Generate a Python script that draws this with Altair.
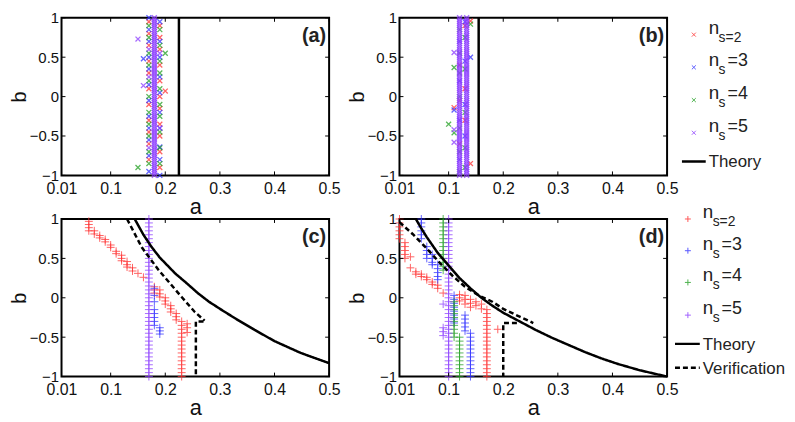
import altair as alt
import pandas as pd

W, H = 270, 159

X_TICKS = [0.01, 0.1, 0.2, 0.3, 0.4, 0.5]
Y_TICKS = [-1.0, -0.5, 0.0, 0.5, 1.0]
SERIES = ["n_s=2", "n_s=3", "n_s=4", "n_s=5"]
COLORS = ["#ff3030", "#3030ff", "#22a022", "#8c3cff"]

B_FINE = [-1.0, -0.95, -0.9, -0.85, -0.8, -0.75, -0.7, -0.65, -0.6, -0.55, -0.5,
          -0.45, -0.4, -0.35, -0.3, -0.25, -0.2, -0.15, -0.1, -0.05, 0.0,
          0.05, 0.1, 0.15, 0.2, 0.25, 0.3, 0.35, 0.4, 0.45, 0.5,
          0.55, 0.6, 0.65, 0.7, 0.75, 0.8, 0.85, 0.9, 0.95, 1.0]
B_FINER = [-1.0, -0.975, -0.95, -0.925, -0.9, -0.875, -0.85, -0.825, -0.8, -0.775,
           -0.75, -0.725, -0.7, -0.675, -0.65, -0.625, -0.6, -0.575, -0.55, -0.525,
           -0.5, -0.475, -0.45, -0.425, -0.4, -0.375, -0.35, -0.325, -0.3, -0.275,
           -0.25, -0.225, -0.2, -0.175, -0.15, -0.125, -0.1, -0.075, -0.05, -0.025,
           0.0, 0.025, 0.05, 0.075, 0.1, 0.125, 0.15, 0.175, 0.2, 0.225,
           0.25, 0.275, 0.3, 0.325, 0.35, 0.375, 0.4, 0.425, 0.45, 0.475,
           0.5, 0.525, 0.55, 0.575, 0.6, 0.625, 0.65, 0.675, 0.7, 0.725,
           0.75, 0.775, 0.8, 0.825, 0.85, 0.875, 0.9, 0.925, 0.95, 0.975, 1.0]

# ---------------- panel (a) ----------------
A_RED_017 = [0.95, 0.8, 0.65, 0.45, 0.3, 0.1, -0.1, -0.3, -0.45, -0.6, -0.8]
A_RED_019 = [0.9, 0.75, 0.6, 0.4, 0.2, 0.0, -0.15, -0.35, -0.5, -0.7, -0.9]
A_RED_OUT = [(0.2, 0.07)]
A_BLUE_017 = [1.0, 0.85, 0.7, 0.5, 0.35, 0.15, -0.05, -0.25, -0.4, -0.55, -0.75, -0.95]
A_BLUE_019 = [0.95, 0.7, 0.5, 0.25, 0.05, -0.2, -0.4, -0.64, -0.8, -1.0]
A_BLUE_OUT = [(0.16, 0.48)]
A_GREEN_017 = [0.9, 0.75, 0.55, 0.4, 0.2, 0.0, -0.2, -0.35, -0.5, -0.7, -0.85]
A_GREEN_019 = [0.85, 0.65, 0.45, 0.3, 0.1, -0.1, -0.25, -0.45, -0.65, -0.85]
A_GREEN_OUT = [(0.15, -0.9), (0.2, 0.55)]
A_PURPLE_017 = [0.6, 0.25, -0.65]
A_PURPLE_019 = [0.55, -0.4]
A_PURPLE_OUT = [(0.15, 0.73), (0.16, 0.14)]
A_PURPLE_BAND_A = 0.18
A_THEORY = [(0.225, -1.0), (0.225, 1.0)]

# ---------------- panel (b) ----------------
B_RED_012 = [0.4, -0.05, -0.6]
B_RED_013 = [0.9, 0.1, -0.3]
B_RED_OUT = [(0.14, 0.96), (0.14, -0.85), (0.11, -0.14)]
B_BLUE_012 = [0.7, 0.2, -0.3, -0.8]
B_BLUE_013 = [0.95, 0.45, -0.1, -0.5]
B_BLUE_OUT = [(0.14, 0.5), (0.11, -0.17)]
B_GREEN_012 = [0.85, 0.55, 0.3, 0.0, -0.4, -0.7, -0.95]
B_GREEN_013 = [0.75, 0.35, -0.2, -0.65, -0.9]
B_GREEN_OUT = [(0.11, 0.37), (0.10, -0.35), (0.11, -0.46), (0.14, 0.92)]
B_PURPLE_BANDS_A = [0.12, 0.133]
B_PURPLE_OUT = [(0.11, 0.56), (0.11, -0.42), (0.11, -0.58)]
B_THEORY = [(0.155, -1.0), (0.155, 1.0)]

# ---------------- panel (c) ----------------
C_RED = [(0.06, 0.97), (0.06, 0.93), (0.06, 0.89), (0.06, 0.85),
         (0.07, 0.85), (0.07, 0.81), (0.08, 0.79), (0.08, 0.76),
         (0.09, 0.74), (0.09, 0.71), (0.10, 0.67), (0.10, 0.64),
         (0.11, 0.59), (0.11, 0.56), (0.12, 0.54), (0.12, 0.5), (0.12, 0.47),
         (0.13, 0.46), (0.13, 0.42), (0.13, 0.39), (0.14, 0.38), (0.14, 0.34),
         (0.15, 0.31), (0.16, 0.26),
         (0.18, 0.14), (0.18, 0.1), (0.18, 0.06), (0.19, 0.1), (0.19, 0.05), (0.19, 0.01),
         (0.20, 0.0), (0.20, -0.04), (0.20, -0.08), (0.21, -0.1), (0.21, -0.14), (0.21, -0.18),
         (0.22, -0.2), (0.22, -0.24), (0.22, -0.28),
         (0.24, -0.33), (0.24, -0.38), (0.24, -0.44)]
C_RED_BAND = (0.23, -1.0, -0.3)
C_BLUE = [(0.18, 0.12), (0.18, 0.03), (0.18, -0.05), (0.18, -0.15), (0.18, -0.2),
          (0.18, -0.25), (0.18, -0.3), (0.18, -0.35), (0.19, -0.38), (0.19, -0.42), (0.19, -0.46)]
C_PURPLE_BAND = (0.17, -1.0, 1.0)
C_THEORY = [(0.144, 1.0), (0.16, 0.8), (0.175, 0.644), (0.19, 0.51), (0.218, 0.31),
            (0.24, 0.18), (0.26, 0.057), (0.28, -0.05), (0.303, -0.153), (0.33, -0.27),
            (0.363, -0.405), (0.4, -0.55), (0.448, -0.70), (0.5, -0.83)]
C_VERIF = [(0.13, 1.0), (0.157, 0.64), (0.188, 0.35), (0.23, 0.01), (0.254, -0.18), (0.272, -0.29)]
C_VERIF_STEP = [(0.27, -0.3), (0.256, -0.3), (0.256, -1.0)]

# ---------------- panel (d) ----------------
D_RED = [(0.02, 0.7), (0.02, 0.65), (0.02, 0.6), (0.02, 0.55), (0.02, 0.5),
         (0.03, 0.52), (0.03, 0.38), (0.04, 0.33), (0.04, 0.3), (0.05, 0.3), (0.05, 0.27),
         (0.06, 0.26), (0.06, 0.23), (0.07, 0.2), (0.07, 0.17), (0.08, 0.16), (0.08, 0.12),
         (0.09, 0.06), (0.12, 0.04), (0.12, 0.0), (0.12, -0.04),
         (0.13, 0.03), (0.13, -0.02), (0.13, -0.08), (0.14, -0.02), (0.14, -0.07), (0.14, -0.12),
         (0.15, -0.05), (0.15, -0.1), (0.16, -0.08), (0.16, -0.14), (0.19, -0.4)]
D_RED_BANDS = [(0.01, 0.75, 1.0), (0.17, -1.0, -0.15)]
D_BLUE = [(0.06, 0.65), (0.06, 0.6), (0.06, 0.55), (0.06, 0.5),
          (0.07, 0.55), (0.07, 0.5), (0.07, 0.45), (0.07, 0.42),
          (0.08, 0.42), (0.08, 0.37), (0.08, 0.32), (0.08, 0.27), (0.08, 0.23),
          (0.11, 0.03), (0.11, -0.02), (0.11, -0.07), (0.11, -0.12), (0.11, -0.17),
          (0.11, -0.22), (0.11, -0.27), (0.11, -0.32),
          (0.13, -0.22), (0.13, -0.27), (0.13, -0.32), (0.13, -0.37), (0.13, -0.42)]
D_BLUE_BANDS = [(0.05, 0.75, 1.0), (0.14, -1.0, -0.45)]
D_GREEN = [(0.11, -0.05), (0.11, -0.1), (0.11, -0.15), (0.11, -0.2), (0.11, -0.25),
           (0.11, -0.3), (0.11, -0.35), (0.11, -0.4), (0.11, -0.45), (0.11, -0.5)]
D_GREEN_BANDS = [(0.09, 0.35, 1.0), (0.12, -1.0, -0.5)]
D_PURPLE = [(0.09, -0.08), (0.09, -0.38), (0.09, -0.43), (0.09, -0.48)]
D_PURPLE_BANDS = [(0.10, -1.0, 1.0)]
D_THEORY = [(0.04, 1.0), (0.05, 0.88), (0.06, 0.77), (0.08, 0.57), (0.1, 0.41), (0.12, 0.25),
            (0.14, 0.12), (0.16, 0.0), (0.18, -0.1), (0.2, -0.19), (0.23, -0.3), (0.26, -0.41),
            (0.29, -0.51), (0.32, -0.6), (0.35, -0.69), (0.38, -0.77), (0.41, -0.84),
            (0.45, -0.92), (0.5, -1.0)]
D_VERIF = [(0.01, 0.96), (0.034, 0.81), (0.058, 0.64), (0.083, 0.45), (0.107, 0.28),
           (0.13, 0.14), (0.155, 0.03), (0.18, -0.05), (0.2, -0.14), (0.23, -0.24), (0.255, -0.32)]
D_VERIF_STEP = [(0.225, -0.32), (0.2, -0.32), (0.2, -1.0)]


def band(a, lo, hi, grid=None):
    return [(a, b) for b in (grid or B_FINE) if lo <= b <= hi]


def col(a, bs):
    return [(a, b) for b in bs]


def points_df(groups):
    rows = []
    for ns, pts in zip(SERIES, groups):
        for a, b in pts:
            rows.append({"a": a, "b": b, "ns": ns})
    return pd.DataFrame(rows)


def lines_df(segs):
    rows = []
    for seg_id, (kind, pts) in enumerate(segs):
        for i, (a, b) in enumerate(pts):
            rows.append({"a": a, "b": b, "kind": kind, "seg": seg_id, "i": i})
    return pd.DataFrame(rows)


PTS_A = points_df([
    col(0.17, A_RED_017) + col(0.19, A_RED_019) + A_RED_OUT,
    col(0.17, A_BLUE_017) + col(0.19, A_BLUE_019) + A_BLUE_OUT,
    col(0.17, A_GREEN_017) + col(0.19, A_GREEN_019) + A_GREEN_OUT,
    col(0.17, A_PURPLE_017) + col(0.19, A_PURPLE_019) + A_PURPLE_OUT
    + band(A_PURPLE_BAND_A, -1.0, 1.0, B_FINER),
])
PTS_B = points_df([
    col(0.12, B_RED_012) + col(0.13, B_RED_013) + B_RED_OUT,
    col(0.12, B_BLUE_012) + col(0.13, B_BLUE_013) + B_BLUE_OUT,
    col(0.12, B_GREEN_012) + col(0.13, B_GREEN_013) + B_GREEN_OUT,
    B_PURPLE_OUT + band(B_PURPLE_BANDS_A[0], -1.0, 1.0, B_FINER)
    + band(B_PURPLE_BANDS_A[1], -1.0, 1.0, B_FINER),
])
PTS_C = points_df([
    C_RED + band(*C_RED_BAND),
    C_BLUE,
    [],
    band(*C_PURPLE_BAND),
])
PTS_D = points_df([
    D_RED + [p for bd in D_RED_BANDS for p in band(*bd)],
    D_BLUE + [p for bd in D_BLUE_BANDS for p in band(*bd)],
    D_GREEN + [p for bd in D_GREEN_BANDS for p in band(*bd)],
    D_PURPLE + [p for bd in D_PURPLE_BANDS for p in band(*bd)],
])

LN_A = lines_df([("Theory", A_THEORY)])
LN_B = lines_df([("Theory", B_THEORY)])
LN_C = lines_df([("Theory", C_THEORY), ("Verification", C_VERIF), ("Verification", C_VERIF_STEP)])
LN_D = lines_df([("Theory", D_THEORY), ("Verification", D_VERIF), ("Verification", D_VERIF_STEP)])

X_MARK = "M-1,-1L1,1M-1,1L1,-1"
P_MARK = "M-1,0L1,0M0,-1L0,1"

XS = alt.Scale(domain=[0.01, 0.5], nice=False, zero=False)
YS = alt.Scale(domain=[-1, 1], nice=False, zero=False)
XAX = alt.Axis(values=X_TICKS, format=".2~f", labelFlush=False, ticks=False, domain=False,
               grid=False, labelPadding=5, titlePadding=0, labelFontSize=16,
               titleFontSize=22, labelOverlap=False)
YAX = alt.Axis(values=Y_TICKS, format="~g", ticks=False, domain=False, grid=False,
               labelPadding=3, titlePadding=0, labelFontSize=15, titleFontSize=20,
               labelOverlap=False)
COLOR = alt.Color("ns:N", scale=alt.Scale(domain=SERIES, range=COLORS), legend=None)
DASH = alt.StrokeDash("kind:N", scale=alt.Scale(domain=["Theory", "Verification"],
                                                range=[[1, 0], [5, 3]]), legend=None)

ONE = pd.DataFrame({"k": [0]})


def X():
    return alt.X("a:Q", scale=XS, axis=XAX, title="a")


def Y():
    return alt.Y("b:Q", scale=YS, axis=YAX, title="b")


def tick_layers():
    xt = pd.DataFrame({"a": X_TICKS})
    yt = pd.DataFrame({"b": Y_TICKS})
    lay = []
    for y0, y1 in [(0, 4), (H - 4, H)]:
        lay.append(alt.Chart(xt).mark_rule(color="black", strokeWidth=1).encode(
            x=X(), y=alt.value(y0), y2=alt.value(y1)))
    for x0, x1 in [(0, 4), (W - 4, W)]:
        lay.append(alt.Chart(yt).mark_rule(color="black", strokeWidth=1).encode(
            y=Y(), x=alt.value(x0), x2=alt.value(x1)))
    return lay


def legend_layers(x_mark, x_text, x_l0, x_l1, ys, line_ys, kinds, shape, size):
    lay = []
    for ns, color, y in zip(SERIES, COLORS, ys):
        lay.append(alt.Chart(ONE).mark_point(shape=shape, filled=False, size=size,
                                             strokeWidth=1, color=color, opacity=0.8).encode(
            x=alt.value(x_mark), y=alt.value(y)))
        lay.append(alt.Chart(ONE).mark_text(align="left", baseline="alphabetic", fontSize=19,
                                            color="#222222").encode(
            x=alt.value(x_text), y=alt.value(y - 1), text=alt.value("n")))
        sub = "s=2" if ns == "n_s=2" else "s"
        lay.append(alt.Chart(ONE).mark_text(align="left", baseline="alphabetic", fontSize=14,
                                            color="#222222").encode(
            x=alt.value(x_text + 10), y=alt.value(y + 7), text=alt.value(sub)))
        if ns != "n_s=2":
            lay.append(alt.Chart(ONE).mark_text(align="left", baseline="alphabetic", fontSize=18,
                                                color="#222222").encode(
                x=alt.value(x_text + 19), y=alt.value(y - 1), text=alt.value("=" + ns[-1])))
    for kind, ly in zip(kinds, line_ys):
        dash = [1, 0] if kind == "Theory" else [5, 3]
        lay.append(alt.Chart(ONE).mark_rule(color="black", strokeWidth=2.5, strokeDash=dash).encode(
            x=alt.value(x_l0), x2=alt.value(x_l1), y=alt.value(ly)))
        lay.append(alt.Chart(ONE).mark_text(align="left", baseline="alphabetic", fontSize=17,
                                            color="#222222").encode(
            x=alt.value(x_text), y=alt.value(ly + 6), text=alt.value(kind)))
    return lay


def panel(pts, lns, shape, size, label, extra, sw=1.0):
    p = alt.Chart(pts).mark_point(shape=shape, filled=False, size=size, strokeWidth=sw,
                                  opacity=0.75).encode(x=X(), y=Y(), color=COLOR)
    l = alt.Chart(lns).mark_line(color="black", strokeWidth=2.5).encode(
        x=X(), y=Y(), detail="seg:N", order="i:Q", strokeDash=DASH)
    t = alt.Chart(ONE).mark_text(align="right", baseline="alphabetic", fontSize=20,
                                 fontWeight="bold", color="#222222").encode(
        x=alt.value(W - 3), y=alt.value(24), text=alt.value(label))
    return alt.layer(p, l, t, *tick_layers(), *extra).properties(width=W, height=H)


leg_b = legend_layers(W + 27, W + 42, W + 15, W + 39, [17, 50, 83, 116], [145],
                      ["Theory"], X_MARK, 16)
leg_d = legend_layers(W + 21, W + 36, W + 8, W + 33, [0, 32, 64, 97], [126, 150],
                      ["Theory", "Verification"], P_MARK, 36)

pa = panel(PTS_A, LN_A, X_MARK, 25, "(a)", [], 1.3)
pb = panel(PTS_B, LN_B, X_MARK, 25, "(b)", leg_b, 1.3)
pc = panel(PTS_C, LN_C, P_MARK, 64, "(c)", [])
pd_ = panel(PTS_D, LN_D, P_MARK, 64, "(d)", leg_d)

chart = alt.concat(
    pa, pb, pc, pd_, columns=2, spacing={"row": 44, "column": 71}, bounds="flush",
).properties(
    padding={"left": 0, "top": 0, "right": 0, "bottom": 8}
).configure(font="Liberation Sans").configure_view(
    stroke="black", strokeWidth=2
).configure_axis(
    labelColor="#111111", titleColor="#111111", titleFontWeight="normal",
    labelFont="Liberation Sans", titleFont="Liberation Sans"
)

chart.save("out.html", embed_options={"renderer": "svg", "actions": False})
